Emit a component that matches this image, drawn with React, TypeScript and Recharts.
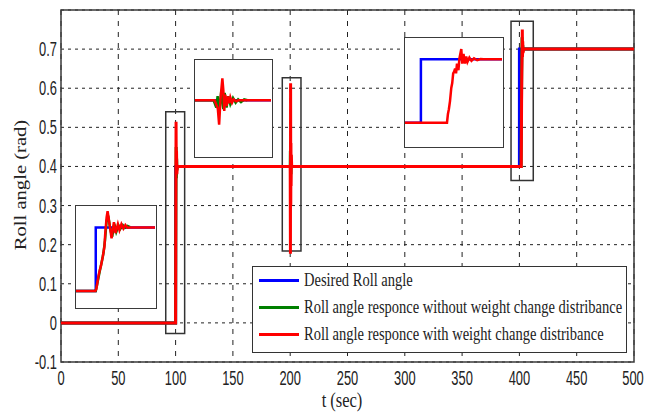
import { LineChart, Line, XAxis, YAxis, CartesianGrid, ReferenceArea, Legend } from 'recharts'

const SERIF = '"Liberation Serif", "Times New Roman", serif'
const SANS = '"Liberation Sans", Arial, sans-serif'

// series names / colours (legend order)
const seriesNames = [
  'Desired Roll angle',
  'Roll angle responce without weight change distribance',
  'Roll angle responce with weight change distribance',
]
const seriesColors = ['#0000ff', '#008000', '#ff0000']

const xTicks = [0, 50, 100, 150, 200, 250, 300, 350, 400, 450, 500]
const yTicks = [-0.1, 0, 0.1, 0.2, 0.3, 0.4, 0.5, 0.6, 0.7]

// main plot, t (sec) / roll angle (rad)
const desiredT = [0, 100, 100, 200, 400, 400, 500]
const desiredV = [0, 0, 0.4, 0.4, 0.4, 0.7, 0.7]

const noDistT = [0, 100, 100.15, 100.3, 100.5, 100.7, 100.9, 101.2, 101.6, 200, 200.15, 200.3, 200.5, 200.7, 200.9, 201.2, 401.5, 401.9, 402.3, 402.6, 402.9, 403.3, 403.8, 500]
const noDistV = [0, 0, 0.2, 0.34, 0.45, 0.37, 0.42, 0.39, 0.4, 0.4, 0.44, 0.36, 0.43, 0.38, 0.41, 0.4, 0.4, 0.6, 0.73, 0.68, 0.71, 0.695, 0.7, 0.7]

const withDistT = [0, 100, 100.2, 100.4, 100.6, 100.8, 101.1, 101.5, 200, 200.2, 200.35, 200.5, 200.65, 200.8, 201, 201.3, 401.6, 401.9, 402.1, 402.4, 402.55, 402.7, 402.9, 403.2, 403.6, 500]
const withDistV = [0, 0, 0.3, 0.514, 0.39, 0.44, 0.38, 0.4, 0.4, 0.177, 0.613, 0.3, 0.46, 0.35, 0.43, 0.4, 0.4, 0.56, 0.64, 0.7, 0.75, 0.68, 0.72, 0.69, 0.7, 0.7]

// zoom boxes drawn round the transitions
const zoomBoxes = [
  { x1: 91.4, x2: 107.9, y1: -0.027, y2: 0.54 },
  { x1: 193.1, x2: 209.4, y1: 0.184, y2: 0.627 },
  { x1: 392.7, x2: 412.1, y1: 0.364, y2: 0.771 },
]

// inset A: step at t = 100
const insetADesiredT = [99, 100, 100, 103]
const insetADesiredV = [0, 0, 0.4, 0.4]
const insetANoDistT = [99, 100, 100.06, 100.19, 100.31, 100.39, 100.47, 100.55, 100.63, 100.75, 100.83, 100.94, 101.04, 101.16, 101.25, 101.37, 101.48, 101.61, 101.74]
const insetANoDistV = [0, 0, 0.035, 0.117, 0.188, 0.239, 0.32, 0.443, 0.474, 0.382, 0.341, 0.423, 0.372, 0.412, 0.392, 0.415, 0.398, 0.41, 0.402]
const insetAWithDistT = [99, 99.98, 100.03, 100.14, 100.2, 100.26, 100.36, 100.44, 100.48, 100.55, 100.6, 100.8, 100.92, 101.0, 101.12, 101.2, 101.3, 101.4, 101.5, 101.6, 101.76, 103]
const insetAWithDistV = [0, 0, 0.014, 0.096, 0.13, 0.157, 0.219, 0.28, 0.362, 0.464, 0.503, 0.332, 0.434, 0.364, 0.421, 0.383, 0.421, 0.393, 0.415, 0.399, 0.4, 0.4]

// inset B: disturbance at t = 200
const insetBDesiredT = [199, 203]
const insetBDesiredV = [0.4, 0.4]
const insetBNoDistT = [199, 199.98, 200.12, 200.19, 200.29, 200.39, 200.49, 200.56, 200.66, 200.75, 200.86, 201.0, 201.14, 201.27, 201.42, 201.59, 201.76]
const insetBNoDistV = [0.4, 0.4, 0.325, 0.443, 0.29, 0.51, 0.308, 0.477, 0.325, 0.443, 0.359, 0.426, 0.376, 0.409, 0.382, 0.409, 0.4]
const insetBWithDistT = [199, 200.03, 200.2, 200.27, 200.34, 200.44, 200.49, 200.54, 200.59, 200.66, 200.73, 200.8, 200.86, 200.95, 201.03, 201.17, 201.27, 203]
const insetBWithDistV = [0.4, 0.4, 0.315, 0.147, 0.41, 0.628, 0.51, 0.29, 0.46, 0.34, 0.44, 0.37, 0.43, 0.376, 0.41, 0.39, 0.4, 0.4]

// inset C: step at t = 400
const insetCDesiredT = [399, 400, 400, 405.1]
const insetCDesiredV = [0.4, 0.4, 0.7, 0.7]
const insetCWithDistT = [399, 401.64, 401.7, 401.76, 401.83, 401.91, 401.97, 402.03, 402.09, 402.15, 402.21, 402.27, 402.36, 402.42, 402.5, 402.54, 402.6, 402.68, 402.77, 402.85, 402.93, 403.05, 403.18, 403.34, 403.54, 403.75, 403.95, 405.1]
const insetCWithDistV = [0.4, 0.4, 0.441, 0.464, 0.502, 0.564, 0.587, 0.633, 0.641, 0.656, 0.633, 0.679, 0.648, 0.702, 0.733, 0.748, 0.679, 0.725, 0.679, 0.713, 0.687, 0.707, 0.692, 0.704, 0.695, 0.701, 0.7, 0.7]

const zip = (t: number[], v: number[]) => t.map((x, i) => ({ t: x, v: v[i] }))

function XTick({ x, y, payload }: any) {
  return (
    <g transform={`translate(${x},${y + 15})`}>
      <text textAnchor="middle" transform="scale(0.92,1.45)" fontFamily={SANS} fontSize={14} fill="#222">
        {String(payload.value)}
      </text>
    </g>
  )
}

function YTick({ x, y, payload }: any) {
  return (
    <g transform={`translate(${x + 4},${y + 7})`}>
      <text textAnchor="end" transform="scale(0.92,1.45)" fontFamily={SANS} fontSize={14} fill="#222">
        {String(payload.value)}
      </text>
    </g>
  )
}

function LegendBox({ payload }: any) {
  const items = [...(payload ?? [])].sort(
    (a: any, b: any) => seriesNames.indexOf(a.value) - seriesNames.indexOf(b.value),
  )
  return (
    <div style={{ width: 375, height: 87, border: '1.5px solid #333', background: '#fff', boxSizing: 'border-box' }}>
      {items.map((it: any) => (
        <div key={it.value} style={{ display: 'flex', alignItems: 'center', height: 27 }}>
          <span style={{ display: 'inline-block', width: 40, height: 3, background: it.color, marginLeft: 6, marginRight: 5 }} />
          <span
            style={{
              fontFamily: SERIF, fontSize: 14.5, color: '#222', lineHeight: 1,
              display: 'inline-block', transform: 'scaleY(1.25)', whiteSpace: 'nowrap',
            }}
          >
            {it.value}
          </span>
        </div>
      ))}
    </div>
  )
}

type InsetSeries = { data: { t: number; v: number }[]; color: string }

function Inset({ left, top, width, height, xDomain, yDomain, series }: {
  left: number; top: number; width: number; height: number
  xDomain: [number, number]; yDomain: [number, number]; series: InsetSeries[]
}) {
  return (
    <div
      style={{
        position: 'absolute', left, top, width, height, background: '#fff',
        border: '1.5px solid #3a3a3a', boxSizing: 'border-box',
      }}
    >
      <LineChart width={width - 3} height={height - 3} margin={{ top: 0, right: 0, bottom: 0, left: 0 }}>
        <XAxis type="number" dataKey="t" domain={xDomain} hide allowDataOverflow />
        <YAxis type="number" domain={yDomain} hide allowDataOverflow />
        {series.map((s, i) => (
          <Line
            key={i}
            data={s.data}
            dataKey="v"
            type="linear"
            stroke={s.color}
            strokeWidth={2.5}
            dot={false}
            isAnimationActive={false}
          />
        ))}
      </LineChart>
    </div>
  )
}

export default function App() {
  const mainSeries = [zip(desiredT, desiredV), zip(noDistT, noDistV), zip(withDistT, withDistV)]

  return (
    <div style={{ position: 'absolute', left: 0, top: 0, width: 645, height: 412, background: '#fff' }}>
      <LineChart width={645} height={412} margin={{ top: 10, right: 11, bottom: 0, left: 0 }}>
        <CartesianGrid vertical={false} stroke="#222" strokeDasharray="3 4" />
        <CartesianGrid horizontal={false} stroke="#222" strokeDasharray="5 6" />
        <XAxis
          type="number"
          dataKey="t"
          domain={[0, 500]}
          ticks={xTicks}
          allowDataOverflow
          height={50}
          tickLine={false}
          axisLine={false}
          tick={(p: any) => <XTick {...p} />}
          label={{
            content: () => (
              <text transform="translate(342,407) scale(1,1.25)" textAnchor="middle" fontFamily={SERIF} fontSize={16.5} fill="#222">
                t (sec)
              </text>
            ),
          }}
        />
        <YAxis
          type="number"
          domain={[-0.1, 0.8]}
          ticks={yTicks}
          allowDataOverflow
          width={61}
          tickLine={false}
          axisLine={false}
          tick={(p: any) => <YTick {...p} />}
          label={{
            content: () => (
              <text
                transform="translate(20,185) rotate(-90) scale(1.25,1)"
                textAnchor="middle"
                dominantBaseline="central"
                fontFamily={SERIF}
                fontSize={16.5}
                fill="#222"
              >
                Roll angle (rad)
              </text>
            ),
          }}
        />
        {zoomBoxes.map((b, i) => (
          <ReferenceArea key={i} x1={b.x1} x2={b.x2} y1={b.y1} y2={b.y2} fill="none" stroke="#333" strokeWidth={1.5} />
        ))}
        {mainSeries.map((d, i) => (
          <Line
            key={seriesNames[i]}
            name={seriesNames[i]}
            data={d}
            dataKey="v"
            type="linear"
            stroke={seriesColors[i]}
            strokeWidth={3}
            dot={false}
            activeDot={false}
            isAnimationActive={false}
          />
        ))}
        <ReferenceArea x1={0} x2={500} y1={-0.1} y2={0.8} fill="none" stroke="#3a3a3a" strokeWidth={1.5} />
        <Legend
          layout="vertical"
          align="center"
          verticalAlign="middle"
          content={(p: any) => <LegendBox {...p} />}
          wrapperStyle={{ left: 252, top: 266, width: 375, height: 87 }}
        />
      </LineChart>

      <Inset
        left={75} top={205} width={82} height={104}
        xDomain={[99, 103]} yDomain={[-0.1, 0.535]}
        series={[
          { data: zip(insetADesiredT, insetADesiredV), color: seriesColors[0] },
          { data: zip(insetANoDistT, insetANoDistV), color: seriesColors[1] },
          { data: zip(insetAWithDistT, insetAWithDistV), color: seriesColors[2] },
        ]}
      />
      <Inset
        left={194} top={59} width={79} height={99}
        xDomain={[199, 203]} yDomain={[-0.18, 0.82]}
        series={[
          { data: zip(insetBDesiredT, insetBDesiredV), color: seriesColors[0] },
          { data: zip(insetBNoDistT, insetBNoDistV), color: seriesColors[1] },
          { data: zip(insetBWithDistT, insetBWithDistV), color: seriesColors[2] },
        ]}
      />
      <Inset
        left={404} top={37} width={100} height={111}
        xDomain={[399, 405.1]} yDomain={[0.29, 0.8]}
        series={[
          { data: zip(insetCDesiredT, insetCDesiredV), color: seriesColors[0] },
          { data: zip(insetCWithDistT, insetCWithDistV), color: seriesColors[2] },
        ]}
      />
    </div>
  )
}
